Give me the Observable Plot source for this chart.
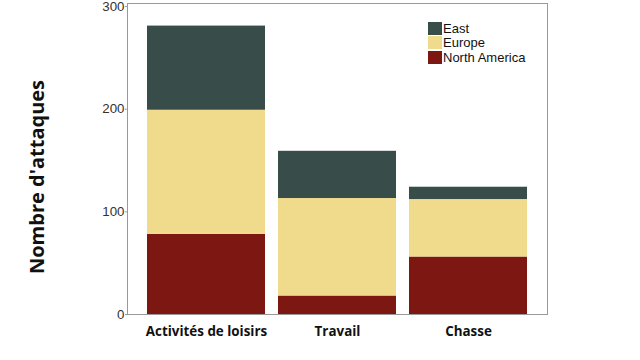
<!DOCTYPE html>
<html>
<head>
<meta charset="utf-8">
<script src="https://cdn.jsdelivr.net/npm/d3@7"></script>
<script src="https://cdn.jsdelivr.net/npm/@observablehq/plot@0.6"></script>
<style>
  html, body { margin: 0; padding: 0; background: #fff; }
  #wrap { position: relative; width: 640px; height: 360px; }
  #wrap svg { display: block; overflow: visible; }
  .xt text { font-family: "Open Sans", sans-serif; font-weight: 700; font-size: 13.4px; fill: #111; }
  .yt text { font-family: "Liberation Sans", Arial, sans-serif; font-size: 13.3px; fill: #333; }
  .ylab { position: absolute; left: 36.5px; top: 177px; transform: translate(-50%, -50%) rotate(-90deg);
          font-family: "Open Sans", sans-serif; font-weight: 700; font-size: 20px; line-height: 20px; color: #111; white-space: nowrap; }
  .legend { position: absolute; left: 428px; top: 21px; font-family: "Liberation Sans", Arial, sans-serif; font-size: 13px; color: #111; }
  .legend div { display: flex; align-items: center; height: 14.5px; }
  .legend span.k { width: 14px; height: 13px; margin-right: 1px; display: inline-block; }
</style>
</head>
<body>
<div id="wrap"></div>
<script>
const categories = ["Activités de loisirs", "Travail", "Chasse"];
const seriesNames = ["East", "Europe", "North America"];
const northAmerica = [78, 18, 56];
const europe = [121, 95, 56];
const east = [82, 46, 12];
const yTicks = [0, 100, 200, 300];
const colors = ["#384c4a", "#efdb8b", "#7c1811"];
const yLabel = "Nombre d'attaques";

const data = [];
categories.forEach((c, i) => {
  data.push({cat: c, region: "North America", value: northAmerica[i]});
  data.push({cat: c, region: "Europe", value: europe[i]});
  data.push({cat: c, region: "East", value: east[i]});
});

const chart = Plot.plot({
  width: 640,
  height: 360,
  marginLeft: 127,
  marginRight: 93,
  marginTop: 3,
  marginBottom: 46,
  x: {domain: categories, paddingInner: 0.1, paddingOuter: 0.145, label: null},
  y: {domain: [0, 303], label: null},
  color: {domain: seriesNames, range: colors},
  marks: [
    Plot.barY(data, Plot.stackY({
      x: "cat", y: "value", fill: "region",
      order: ["North America", "Europe", "East"]
    })),
    Plot.frame({stroke: "#999", strokeWidth: 1}),
    Plot.axisX({tickSize: 0, tickPadding: 12, label: null, className: "xt"}),
    Plot.axisY({ticks: yTicks, tickSize: 2, tickPadding: 1, stroke: "#999", label: null, className: "yt"})
  ]
});
const wrap = document.getElementById("wrap");
wrap.appendChild(chart);

const yl = document.createElement("div");
yl.className = "ylab";
yl.textContent = yLabel;
wrap.appendChild(yl);

const leg = document.createElement("div");
leg.className = "legend";
seriesNames.forEach((n, i) => {
  const row = document.createElement("div");
  row.innerHTML = `<span class="k" style="background:${colors[i]}"></span><span>${n}</span>`;
  leg.appendChild(row);
});
wrap.appendChild(leg);
</script>
</body>
</html>
